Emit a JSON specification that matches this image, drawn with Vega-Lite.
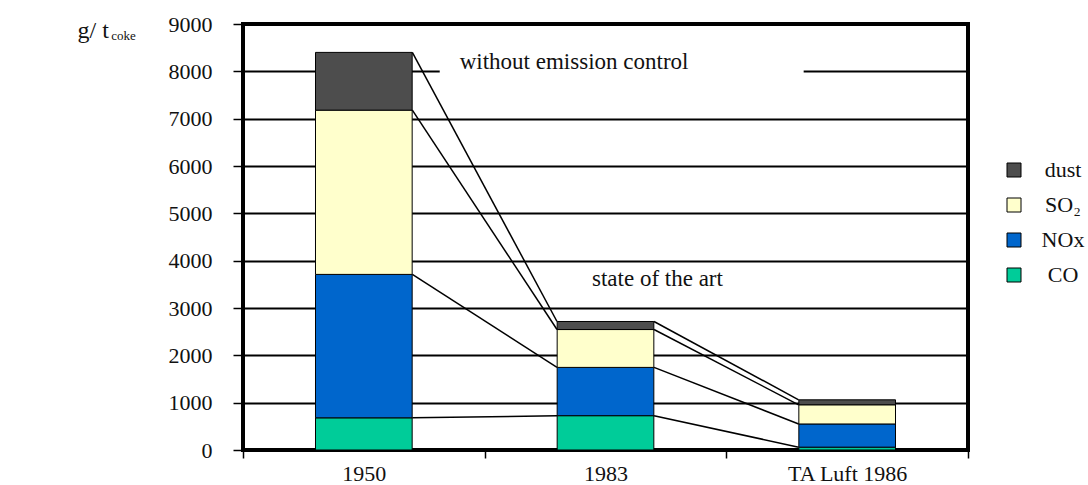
{
  "$schema": "https://vega.github.io/schema/vega-lite/v6.json",
  "width": 725,
  "height": 426,
  "autosize": {"type": "none"},
  "padding": {"left": 243, "top": 24, "right": 120, "bottom": 35},
  "background": "white",
  "config": {
    "view": {"stroke": "black", "strokeWidth": 4},
    "font": "Liberation Serif",
    "axis": {"labelFont": "Liberation Serif", "titleFont": "Liberation Serif", "labelColor": "#111", "titleColor": "#111"},
    "legend": {"labelFont": "Liberation Serif"}
  },
  "datasets": {
    "emissions": [
      {"cat": "1950", "pollutant": "CO", "value": 680},
      {"cat": "1950", "pollutant": "NOx", "value": 3030},
      {"cat": "1950", "pollutant": "SO₂", "value": 3470},
      {"cat": "1950", "pollutant": "dust", "value": 1220},
      {"cat": "1983", "pollutant": "CO", "value": 725},
      {"cat": "1983", "pollutant": "NOx", "value": 1020},
      {"cat": "1983", "pollutant": "SO₂", "value": 800},
      {"cat": "1983", "pollutant": "dust", "value": 170},
      {"cat": "TA Luft 1986", "pollutant": "CO", "value": 60},
      {"cat": "TA Luft 1986", "pollutant": "NOx", "value": 490},
      {"cat": "TA Luft 1986", "pollutant": "SO₂", "value": 405},
      {"cat": "TA Luft 1986", "pollutant": "dust", "value": 105}
    ]
  },
  "layer": [
    {
      "data": {"values": [{}]},
      "mark": {"type": "rule", "stroke": "white", "strokeWidth": 6},
      "encoding": {
        "x": {"datum": "1950", "type": "nominal", "bandPosition": 0.814},
        "x2": {"datum": "TA Luft 1986", "bandPosition": 0.32},
        "y": {"datum": 8000, "type": "quantitative"}
      }
    },
    {
      "data": {"name": "emissions"},
      "transform": [
        {"stack": "value", "groupby": ["cat"], "sort": [{"field": "pollutant", "order": "ascending"}], "as": ["low", "high"]}
      ],
      "mark": {"type": "bar", "width": {"band": 0.4}, "stroke": "black", "strokeWidth": 1},
      "encoding": {
        "x": {
          "field": "cat", "type": "nominal", "sort": ["1950", "1983", "TA Luft 1986"],
          "scale": {"paddingInner": 0, "paddingOuter": 0},
          "axis": {
            "title": null, "labelAngle": 0, "labelAlign": "center", "tickBand": "extent",
            "labelFontSize": 22, "labelPadding": 15, "tickSize": 8, "tickColor": "black",
            "tickWidth": 1.5, "domain": false, "grid": false
          }
        },
        "y": {
          "field": "low", "type": "quantitative",
          "scale": {"domain": [0, 9000]},
          "axis": {
            "values": [0, 1000, 2000, 3000, 4000, 5000, 6000, 7000, 8000, 9000], "format": "d",
            "title": "g/ t", "titleAngle": 0, "titleAlign": "left", "titleBaseline": "alphabetic",
            "titleX": -166, "titleY": 13, "titleFontSize": 24, "titleFontWeight": "normal",
            "labelFontSize": 22, "labelPadding": 21, "tickSize": 10, "tickColor": "black", "tickWidth": 1.5,
            "domain": false, "grid": true, "gridColor": "black", "gridWidth": 2, "gridOpacity": 1
          }
        },
        "y2": {"field": "high"},
        "color": {
          "field": "pollutant", "type": "nominal",
          "scale": {"domain": ["dust", "SO₂", "NOx", "CO"], "range": ["#4d4d4d", "#ffffcc", "#0066cc", "#00cc99"]},
          "legend": {
            "title": null, "orient": "none", "legendX": 760, "legendY": 135, "padding": 0,
            "symbolType": "square", "symbolSize": 196, "symbolStrokeColor": "black", "symbolStrokeWidth": 1,
            "symbolOpacity": 1, "labelFontSize": 22, "labelAlign": "center", "labelOffset": 38,
            "rowPadding": 13, "labelColor": "#111"
          }
        }
      }
    },
    {
      "data": {"name": "emissions"},
      "transform": [
        {"stack": "value", "groupby": ["cat"], "sort": [{"field": "pollutant", "order": "ascending"}], "as": ["low", "high"]},
        {"window": [{"op": "lead", "field": "high", "as": "nextHigh"}, {"op": "lead", "field": "cat", "as": "nextCat"}], "groupby": ["pollutant"], "sort": [{"field": "cat", "order": "ascending"}]},
        {"filter": "datum.nextCat != null"}
      ],
      "mark": {"type": "rule", "stroke": "black", "strokeWidth": 1.5, "xOffset": 48.5, "x2Offset": -48.5},
      "encoding": {
        "x": {"field": "cat", "type": "nominal", "bandPosition": 0.5},
        "x2": {"field": "nextCat", "bandPosition": 0.5},
        "y": {"field": "high", "type": "quantitative"},
        "y2": {"field": "nextHigh"}
      }
    },
    {
      "data": {"values": [{}]},
      "mark": {"type": "text", "fontSize": 23, "align": "center", "baseline": "alphabetic", "color": "#111"},
      "encoding": {
        "x": {"datum": "1983", "type": "nominal", "bandPosition": 0.37},
        "y": {"datum": 8040, "type": "quantitative"},
        "text": {"value": "without emission control"}
      }
    },
    {
      "data": {"values": [{}]},
      "mark": {"type": "text", "fontSize": 23, "align": "center", "baseline": "alphabetic", "color": "#111"},
      "encoding": {
        "x": {"datum": "1983", "type": "nominal", "bandPosition": 0.715},
        "y": {"datum": 3455, "type": "quantitative"},
        "text": {"value": "state of the art"}
      }
    },
    {
      "data": {"values": [{}]},
      "mark": {"type": "text", "fontSize": 13, "align": "left", "baseline": "alphabetic", "dx": -132, "dy": 16, "color": "#111"},
      "encoding": {
        "x": {"datum": "1950", "type": "nominal", "bandPosition": 0.001},
        "y": {"datum": 9000, "type": "quantitative"},
        "text": {"value": "coke"}
      }
    }
  ]
}
